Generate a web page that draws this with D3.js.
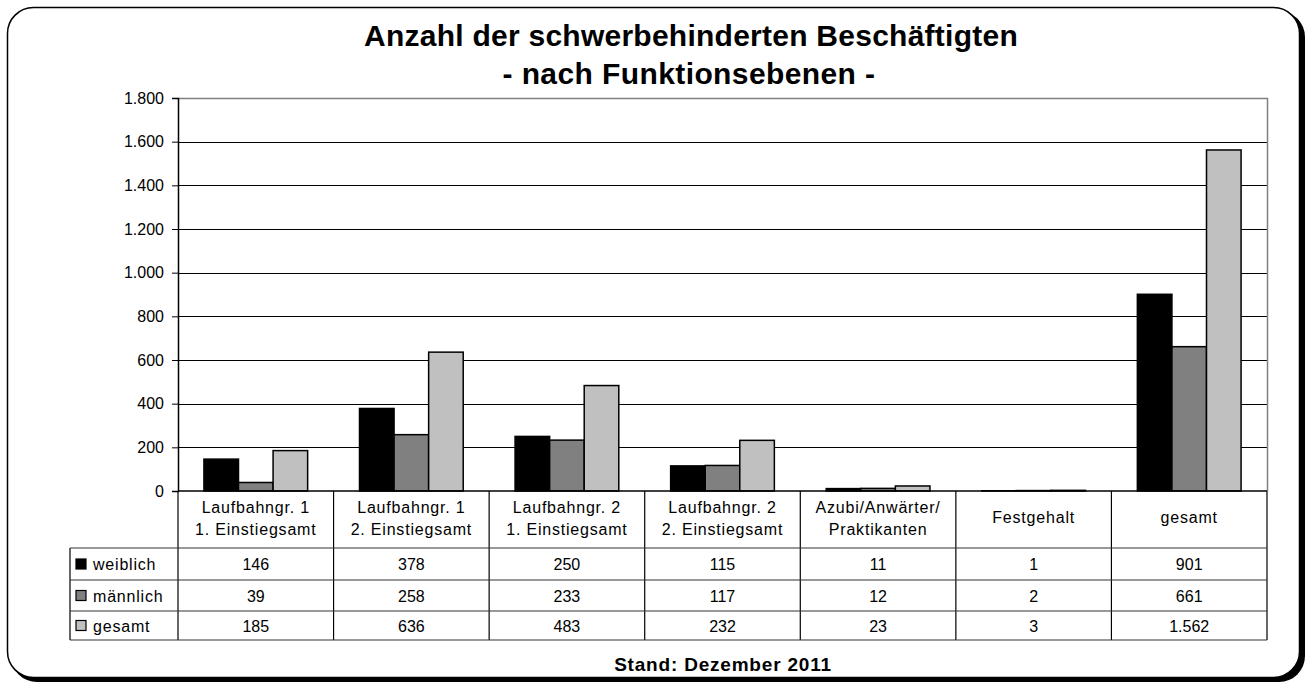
<!DOCTYPE html>
<html>
<head>
<meta charset="utf-8">
<script src="https://cdn.jsdelivr.net/npm/d3@7"></script>
<style>
  body { margin: 0; background: #fff; }
  text { font-family: Arial, "Liberation Sans", sans-serif; fill: #000; }
</style>
</head>
<body>
<div id="chart"></div>
<script>
// Data
var categories = [
    ["Laufbahngr. 1", "1. Einstiegsamt"],
    ["Laufbahngr. 1", "2. Einstiegsamt"],
    ["Laufbahngr. 2", "1. Einstiegsamt"],
    ["Laufbahngr. 2", "2. Einstiegsamt"],
    ["Azubi/Anwärter/", "Praktikanten"],
    ["Festgehalt"],
    ["gesamt"]
];
var seriesNames = ["weiblich", "männlich", "gesamt"];
var weiblich = [146, 378, 250, 115, 11, 1, 901];
var maennlich = [39, 258, 233, 117, 12, 2, 661];
var gesamt = [185, 636, 483, 232, 23, 3, 1562];
var seriesColors = ["#000000", "#808080", "#c0c0c0"];
var yTicks = [0, 200, 400, 600, 800, 1000, 1200, 1400, 1600, 1800];

var allSeries = [weiblich, maennlich, gesamt];

var width = 1313, height = 682;
var plot = { left: 178, right: 1267, top: 98, bottom: 491 };
var table = { left: 70, rows: [548, 580, 611, 640] };

var de = d3.formatLocale({ decimal: ",", thousands: ".", grouping: [3], currency: ["", " €"] });
var fmt = de.format(",d");

var svg = d3.select("#chart").append("svg")
    .attr("width", width)
    .attr("height", height);

// Outer frame with shadow
svg.append("rect")
    .attr("x", 11).attr("y", 11)
    .attr("width", 1294).attr("height", 671)
    .attr("rx", 26).attr("ry", 26)
    .attr("fill", "#000");
svg.append("rect")
    .attr("x", 7.5).attr("y", 7.5)
    .attr("width", 1292).attr("height", 670)
    .attr("rx", 26).attr("ry", 26)
    .attr("fill", "#fff")
    .attr("stroke", "#000")
    .attr("stroke-width", 1.5);

// Title
svg.append("text")
    .attr("x", 691).attr("y", 46)
    .attr("text-anchor", "middle")
    .style("font-size", "30px").style("font-weight", "bold")
    .style("letter-spacing", "0.25px")
    .text("Anzahl der schwerbehinderten Beschäftigten");
svg.append("text")
    .attr("x", 689).attr("y", 84)
    .attr("text-anchor", "middle")
    .style("font-size", "30px").style("font-weight", "bold")
    .style("letter-spacing", "0.4px")
    .text("- nach Funktionsebenen -");

// Scales
var x = d3.scaleBand()
    .domain(d3.range(categories.length))
    .range([plot.left, plot.right])
    .paddingInner(0).paddingOuter(0);

var xs = d3.scaleBand()
    .domain(d3.range(seriesNames.length))
    .range([0, x.bandwidth()])
    .paddingInner(0).paddingOuter(0.75);

var y = d3.scaleLinear()
    .domain([0, 1800])
    .range([plot.bottom, plot.top]);

// Gridlines
svg.append("g")
    .selectAll("line")
    .data(yTicks.filter(d => d > 0 && d < 1800))
    .enter().append("line")
    .attr("x1", plot.left).attr("x2", plot.right)
    .attr("y1", d => Math.round(y(d)) + 0.5)
    .attr("y2", d => Math.round(y(d)) + 0.5)
    .attr("stroke", "#000")
    .attr("stroke-width", 1);

// Plot area border (top and right)
svg.append("path")
    .attr("d", `M${plot.left},${plot.top + 0.5}H${plot.right + 0.5}V${plot.bottom}`)
    .attr("fill", "none")
    .attr("stroke", "#808080")
    .attr("stroke-width", 1.5);

// Bars
var groups = svg.append("g")
    .selectAll("g")
    .data(seriesNames)
    .enter().append("g")
    .attr("fill", (d, i) => seriesColors[i]);

groups.selectAll("rect")
    .data((d, i) => allSeries[i].map((v, j) => ({ s: i, c: j, v: v })))
    .enter().append("rect")
    .attr("x", d => x(d.c) + xs(d.s))
    .attr("y", d => y(d.v))
    .attr("width", xs.bandwidth())
    .attr("height", d => y(0) - y(d.v))
    .attr("stroke", "#000")
    .attr("stroke-width", 1.5);

// Y axis
var yAxis = svg.append("g")
    .attr("transform", `translate(${plot.left},0)`)
    .call(d3.axisLeft(y).tickValues(yTicks).tickFormat(fmt).tickSize(6).tickPadding(8));
yAxis.select(".domain").attr("stroke", "#000").attr("stroke-width", 1.5);
yAxis.selectAll(".tick line").attr("stroke", "#000");
yAxis.selectAll(".tick text")
    .style("font-size", "16px")
    .style("font-family", "Arial, 'Liberation Sans', sans-serif")
    .attr("fill", "#000");

// X axis baseline
svg.append("line")
    .attr("x1", plot.left).attr("x2", plot.right)
    .attr("y1", plot.bottom).attr("y2", plot.bottom)
    .attr("stroke", "#000").attr("stroke-width", 1.5);

// Data table
var tbl = svg.append("g").attr("stroke", "#000").attr("stroke-width", 1.2);

// vertical lines in the category area
x.domain().concat([categories.length]).forEach(function(i) {
    var xx = i < categories.length ? x(i) : plot.right;
    tbl.append("line")
        .attr("x1", xx).attr("x2", xx)
        .attr("y1", plot.bottom).attr("y2", table.rows[3]);
});
// legend column left line
tbl.append("line")
    .attr("x1", table.left).attr("x2", table.left)
    .attr("y1", table.rows[0]).attr("y2", table.rows[3]);
// horizontal row lines
table.rows.forEach(function(r) {
    tbl.append("line")
        .attr("x1", table.left).attr("x2", plot.right)
        .attr("y1", r).attr("y2", r)
        .attr("stroke", "#333");
});

// Category labels
categories.forEach(function(lines, i) {
    var cx = x(i) + x.bandwidth() / 2;
    var baselines = lines.length === 2 ? [513, 535] : [523];
    lines.forEach(function(t, k) {
        svg.append("text")
            .attr("x", cx).attr("y", baselines[k])
            .attr("text-anchor", "middle")
            .style("font-size", "16px")
            .style("letter-spacing", "0.8px")
            .text(t);
    });
});

// Legend keys and values
seriesNames.forEach(function(name, i) {
    var top = table.rows[i], bot = table.rows[i + 1];
    var mid = (top + bot) / 2;
    svg.append("rect")
        .attr("x", 76).attr("y", mid - 5)
        .attr("width", 10).attr("height", 10)
        .attr("fill", seriesColors[i])
        .attr("stroke", "#000").attr("stroke-width", 1.2);
    svg.append("text")
        .attr("x", 93).attr("y", mid + 6)
        .style("font-size", "16px")
        .style("letter-spacing", "0.8px")
        .text(name);
    allSeries[i].forEach(function(v, j) {
        svg.append("text")
            .attr("x", x(j) + x.bandwidth() / 2)
            .attr("y", mid + 6)
            .attr("text-anchor", "middle")
            .style("font-size", "16px")
            .text(fmt(v));
    });
});

// Footer
svg.append("text")
    .attr("x", 723).attr("y", 671)
    .attr("text-anchor", "middle")
    .style("font-size", "19px").style("font-weight", "bold")
    .style("letter-spacing", "0.8px")
    .text("Stand: Dezember 2011");
</script>
</body>
</html>
